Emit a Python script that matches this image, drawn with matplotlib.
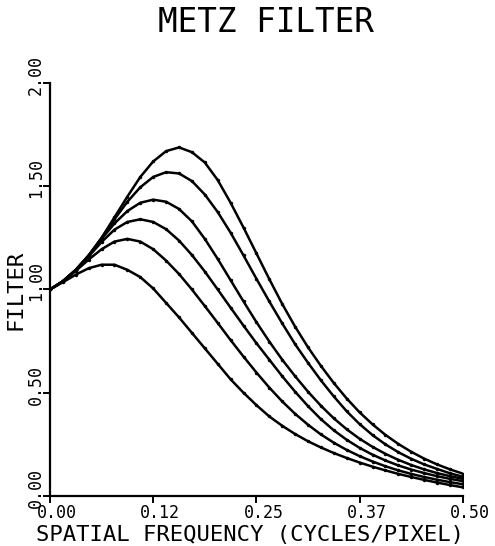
import matplotlib
matplotlib.use("Agg")
import matplotlib.pyplot as plt
import matplotlib.transforms as mtransforms

# spatial frequency samples (cycles/pixel), step 1/64
freq = [k / 64 for k in range(33)]

# filter values, highest peak first
filt_1 = [1.00, 1.04, 1.095, 1.165, 1.25, 1.35, 1.45, 1.545, 1.62, 1.67, 1.688,
          1.665, 1.615, 1.53, 1.42, 1.30, 1.175, 1.05, 0.93, 0.82, 0.72, 0.63,
          0.547, 0.472, 0.405, 0.347, 0.296, 0.252, 0.214, 0.181, 0.153, 0.129, 0.108]
filt_2 = [1.00, 1.04, 1.095, 1.165, 1.25, 1.34, 1.425, 1.495, 1.545, 1.568, 1.562,
          1.525, 1.46, 1.375, 1.275, 1.165, 1.052, 0.942, 0.836, 0.735, 0.645, 0.56,
          0.482, 0.41, 0.348, 0.295, 0.25, 0.212, 0.18, 0.153, 0.131, 0.11, 0.093]
filt_3 = [1.00, 1.04, 1.095, 1.165, 1.245, 1.32, 1.38, 1.42, 1.435, 1.425, 1.39,
          1.33, 1.245, 1.148, 1.045, 0.942, 0.842, 0.748, 0.66, 0.58, 0.505, 0.437,
          0.376, 0.323, 0.277, 0.238, 0.204, 0.175, 0.15, 0.129, 0.111, 0.096, 0.083]
filt_4 = [1.00, 1.04, 1.095, 1.16, 1.23, 1.29, 1.327, 1.34, 1.327, 1.292, 1.237,
          1.167, 1.087, 1.00, 0.912, 0.825, 0.74, 0.66, 0.58, 0.505, 0.435, 0.372,
          0.318, 0.272, 0.233, 0.20, 0.172, 0.148, 0.128, 0.111, 0.096, 0.083, 0.072]
filt_5 = [1.00, 1.04, 1.09, 1.145, 1.195, 1.232, 1.245, 1.232, 1.195, 1.14, 1.075,
          1.00, 0.92, 0.838, 0.755, 0.675, 0.598, 0.525, 0.458, 0.398, 0.345, 0.298,
          0.258, 0.223, 0.193, 0.167, 0.144, 0.124, 0.107, 0.092, 0.079, 0.067, 0.057]
filt_6 = [1.00, 1.035, 1.072, 1.103, 1.12, 1.12, 1.095, 1.06, 1.005, 0.935, 0.865,
          0.79, 0.715, 0.64, 0.565, 0.50, 0.44, 0.385, 0.34, 0.30, 0.265, 0.235,
          0.208, 0.184, 0.162, 0.142, 0.124, 0.107, 0.092, 0.078, 0.065, 0.053, 0.042]
curves = [filt_1, filt_2, filt_3, filt_4, filt_5, filt_6]

x_ticks = [0.0, 0.125, 0.25, 0.375, 0.5]
x_labels = ['0.00', '0.12', '0.25', '0.37', '0.50']
y_ticks = [0.0, 0.5, 1.0, 1.5, 2.0]
y_labels = ['0.00', '0.50', '1.00', '1.50', '2.00']

mono = 'DejaVu Sans Mono'

fig = plt.figure(figsize=(4.95, 5.46), dpi=100)
ax = fig.add_axes([0.101, 0.0916, 0.834, 0.7564])

for c in curves:
    ax.plot(freq, c, '-', color='black', lw=1.8, marker='o', ms=2.5,
            markerfacecolor='black', markeredgewidth=0)

ax.set_xlim(0, 0.5)
ax.set_ylim(0, 2.0)
ax.spines['top'].set_visible(False)
ax.spines['right'].set_visible(False)
ax.spines['left'].set_linewidth(1.6)
ax.spines['bottom'].set_linewidth(1.6)

ax.set_xticks(x_ticks)
ax.set_xticklabels(x_labels, fontfamily=mono, fontsize=12)
ax.set_yticks(y_ticks)
ax.set_yticklabels(y_labels, fontfamily=mono, fontsize=12, rotation=90,
                   va='center')
ax.tick_params(direction='out', length=5, width=1.4)
ax.tick_params(axis='x', pad=1)
ax.tick_params(axis='y', pad=-1.5)

# plotter put the decimal point near the tick, so shift labels a bit
dx = mtransforms.ScaledTranslation(7 / 100, 0, fig.dpi_scale_trans)
for lab in ax.get_xticklabels():
    lab.set_transform(lab.get_transform() + dx)
dy = mtransforms.ScaledTranslation(0, 8 / 100, fig.dpi_scale_trans)
for lab in ax.get_yticklabels():
    lab.set_transform(lab.get_transform() + dy)

fig.text(0.537, 0.958, 'METZ FILTER', fontfamily=mono, fontsize=23.5,
         ha='center', va='center')
fig.text(0.505, 0.021, 'SPATIAL FREQUENCY (CYCLES/PIXEL)', fontfamily=mono,
         fontsize=16, ha='center', va='center')
fig.text(0.031, 0.47, 'FILTER', fontfamily=mono, fontsize=16,
         rotation=90, ha='center', va='center')

fig.savefig('out.png', dpi=100)
